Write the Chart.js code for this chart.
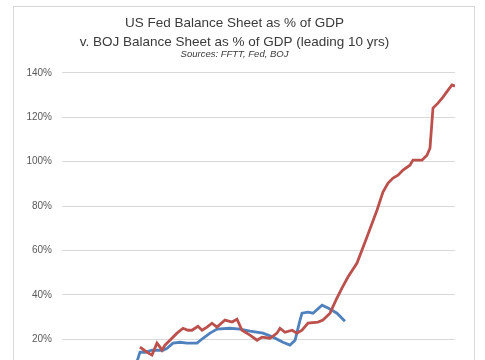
<!DOCTYPE html>
<html>
<head>
<meta charset="utf-8">
<script src="https://cdn.jsdelivr.net/npm/chart.js@4"></script>
<style>
  html, body { margin: 0; padding: 0; background: #fff; overflow: hidden; }
  #frame { position: absolute; left: 13px; top: 6px; width: 460px; height: 420px; border: 1px solid #d9d9d9; background: #fff; }
  canvas { display: block; }
</style>
</head>
<body>
<div id="frame"><canvas id="c" width="460" height="410"></canvas></div>
<script>
// Title text
const titleLines = ['US Fed Balance Sheet as % of GDP', 'v. BOJ Balance Sheet as % of GDP (leading 10 yrs)'];
const subtitleText = 'Sources: FFTT, Fed, BOJ';

// Y-axis ticks (percent)
const yTicks = [0, 20, 40, 60, 80, 100, 120, 140];

// US Fed balance sheet as % of GDP
const fedYears = [2003.0, 2008.73, 2008.95, 2009.34, 2009.87, 2010.71, 2011.02, 2011.47, 2012.01, 2012.54,
  2013.31, 2013.76, 2014.30, 2014.83, 2015.82, 2016.59, 2017.35, 2018.34, 2019.11, 2019.87,
  2020.40, 2020.79, 2021.17, 2021.32, 2021.78, 2022.16, 2022.85, 2023.31, 2023.99, 2024.60];
const fedValues = [10, 10, 14.1, 14.1, 15.0, 15.0, 15.9, 18.2, 18.6, 18.2,
  18.2, 20.4, 22.7, 24.5, 24.9, 24.5, 23.6, 22.7, 20.9, 18.6,
  17.3, 19.5, 28.6, 31.7, 32.2, 31.7, 35.3, 34.0, 31.7, 28.1];

// BOJ balance sheet as % of GDP, shifted forward 10 years
const bojYears = [2008.95, 2009.49, 2009.87, 2010.25, 2010.48, 2010.63, 2010.86, 2011.24, 2011.78, 2012.24,
  2012.62, 2012.92, 2013.38, 2013.69, 2014.07, 2014.45, 2014.83, 2015.44, 2015.98, 2016.36,
  2016.74, 2017.35, 2017.89, 2018.27, 2018.88, 2019.41, 2019.64, 2020.02, 2020.56, 2020.94,
  2021.32, 2021.78, 2022.54, 2022.92, 2023.46, 2023.91, 2024.37, 2024.83, 2025.52, 2026.28,
  2027.05, 2027.50, 2027.89, 2028.27, 2028.65, 2029.03, 2029.56, 2029.79, 2030.48, 2030.86,
  2031.09, 2031.32, 2031.70, 2032.08, 2032.47, 2032.77, 2033.0];
const bojValues = [16.4, 14.1, 12.8, 18.2, 16.4, 15.0, 17.3, 19.5, 22.7, 24.9,
  24.0, 24.0, 25.8, 24.0, 25.4, 27.2, 25.4, 28.6, 27.7, 29.0,
  24.0, 21.8, 19.5, 20.9, 20.4, 22.7, 24.9, 23.1, 24.0, 22.7,
  24.0, 27.2, 27.7, 28.6, 31.7, 37.6, 43.0, 48.0, 54.3, 66.0,
  78.2, 86.3, 90.4, 92.6, 93.9, 96.2, 98.4, 100.7, 100.7, 102.9,
  106.1, 124.2, 126.4, 129.1, 132.3, 134.6, 134.1];

const toPts = (xs, ys) => xs.map((x, i) => ({ x: x, y: ys[i] }));

new Chart(document.getElementById('c'), {
  type: 'line',
  data: {
    datasets: [
      { label: 'BOJ (leading 10 yrs)', data: toPts(bojYears, bojValues), borderColor: '#bb504c', borderWidth: 2.8, pointRadius: 0, tension: 0, fill: false },
      { label: 'US Fed', data: toPts(fedYears, fedValues), borderColor: '#4f81bd', borderWidth: 2.8, pointRadius: 0, tension: 0, fill: false }
    ]
  },
  options: {
    responsive: false,
    animation: false,
    layout: { padding: { left: 0, right: 19, top: 0, bottom: 33.5 } },
    plugins: {
      legend: { display: false },
      tooltip: { enabled: false },
      title: {
        display: true,
        text: titleLines,
        color: '#3a3a3a',
        font: { family: 'Liberation Sans, Arial, sans-serif', size: 13.5, weight: 'normal', lineHeight: 1.37 },
        padding: { top: 7.5, bottom: 0 }
      },
      subtitle: {
        display: true,
        text: subtitleText,
        color: '#3a3a3a',
        font: { family: 'Liberation Sans, Arial, sans-serif', size: 9.5, style: 'italic', lineHeight: 1.2 },
        padding: { top: -2.5, bottom: 12.6 }
      }
    },
    scales: {
      x: { type: 'linear', min: 2003, max: 2033, display: false },
      y: {
        min: 0, max: 140,
        afterBuildTicks: s => { s.ticks = yTicks.map(v => ({ value: v })); },
        afterFit: s => { s.width = 48; },
        border: { display: false },
        grid: { color: '#d9d9d9', lineWidth: 1, drawTicks: false },
        ticks: {
          padding: 10,
          color: '#595959',
          font: { family: 'Liberation Sans, Arial, sans-serif', size: 10 },
          callback: v => v + '%'
        }
      }
    }
  }
});
</script>
</body>
</html>
